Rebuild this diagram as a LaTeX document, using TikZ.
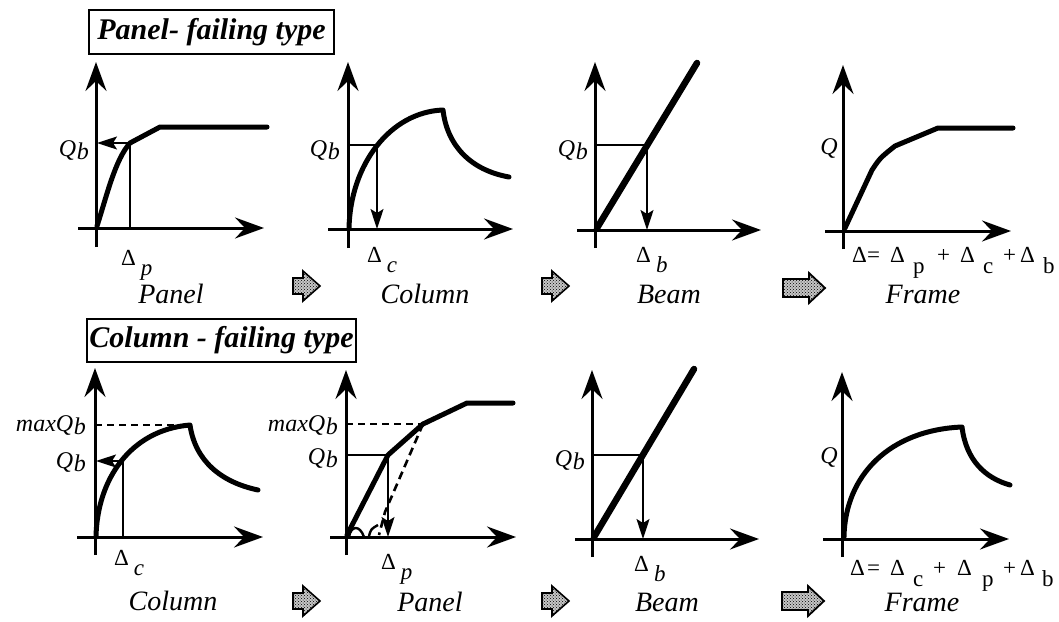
\documentclass[tikz,border=0pt]{standalone}
\usepackage{fontspec}
\setmainfont{Liberation Serif}
\usetikzlibrary{arrows.meta,patterns}
\newcommand\Qlab{\textit{Q}\kern0.5pt\raisebox{-3pt}{\textit{b}}}
\newcommand\dlab[1]{Δ\kern5pt\raisebox{-10pt}{\textit{#1}}}
\newcommand\pc[2]{\makebox[0pt][l]{\hspace*{#1pt}#2}}
\newcommand\pcs[2]{\makebox[0pt][l]{\hspace*{#1pt}\raisebox{-11pt}{#2}}}
\begin{document}
\begin{tikzpicture}[x=1pt,y=-1pt,
  axis/.style={line width=3pt,-{Stealth[length=29pt,width=21pt,inset=10pt]}},
  curve/.style={line width=5pt,line join=round,line cap=round},
  beam/.style={line width=6.5pt,line cap=round},
  thinl/.style={line width=1.5pt},
  ptr/.style={line width=1.5pt,-{Stealth[length=20pt,width=13pt,inset=4pt]}},
  dashl/.style={line width=2pt,dash pattern=on 7pt off 5pt},
  dashd/.style={line width=2.6pt,dash pattern=on 8pt off 5pt},
  lab/.style={font=\fontsize{24}{26}\selectfont\itshape,inner sep=0pt},
  dlabel/.style={font=\fontsize{23}{25}\selectfont,inner sep=0pt,anchor=north west},
  capt/.style={font=\fontsize{28}{30}\selectfont\itshape,inner sep=0pt},
  titlebox/.style={draw,line width=2pt,font=\fontsize{30}{32}\selectfont\bfseries\itshape,inner sep=0pt,anchor=north west},
  bsmall/.pic={\draw[line width=1.6pt,preaction={fill=gray!45},pattern=crosshatch dots,line join=miter] (0,-8) -- (10,-8) -- (10,-15) -- (27,0) -- (10,15) -- (10,8) -- (0,8) -- cycle;},
  bbig/.pic={\draw[line width=1.8pt,preaction={fill=gray!45},pattern=crosshatch dots,line join=miter] (0,-9) -- (26,-9) -- (26,-15) -- (42,0) -- (26,15) -- (26,9) -- (0,9) -- cycle;}
]
\useasboundingbox (0,0) rectangle (1059,621);

% ---------- titles ----------
\node[titlebox,minimum width=245pt,minimum height=44pt] (t1) at (88,9) {Panel- failing type};
\node[titlebox,minimum width=269pt,minimum height=43pt] (t2) at (86,318) {Column - failing type};

% ================= TOP ROW =================
% graph 1: Panel
\draw[axis] (78,228) -- (264,228);
\draw[axis] (96,247) -- (96,62);
\coordinate (a1) at (130,143);
\draw[curve] (97,226) .. controls (107,195) and (115,160) .. (a1) -- (160,127) -- (267,127);
\draw[thinl] (a1) -- (130,228);
\draw[ptr] (a1) -- (97,143);
\node[lab,anchor=east] (qa1) at (89,150) {\Qlab};
\node[dlabel] (da1) at (121,250) {\dlab{p}};
\node[capt] (ca1) at (171,294) {Panel};

% graph 2: Column
\draw[axis] (328,229) -- (513,229);
\draw[axis] (348,248) -- (348,62);
\coordinate (a2) at (377,145);
\draw[curve] (349,229) .. controls (350,165) and (390,112) .. (443,110)
   .. controls (447,145) and (470,170) .. (509,177);
\draw[thinl] (348,145) -- (a2);
\draw[ptr] (a2) -- (377,229);
\node[lab,anchor=east] (qa2) at (340,150) {\Qlab};
\node[dlabel] (da2) at (367,247) {\dlab{c}};
\node[capt] (ca2) at (425,294) {Column};

% graph 3: Beam
\draw[axis] (577,230) -- (761,230);
\draw[axis] (595,248) -- (595,62);
\coordinate (a3) at (647,145);
\draw[beam] (597,228) -- (697,63);
\draw[thinl] (595,145) -- (a3);
\draw[ptr] (a3) -- (647,230);
\node[lab,anchor=east] (qa3) at (588,150) {\Qlab};
\node[dlabel] (da3) at (636,247) {\dlab{b}};
\node[capt] (ca3) at (669,294) {Beam};

% graph 4: Frame
\draw[axis] (825,231) -- (1011,231);
\draw[axis] (843,249) -- (843,65);
\draw[curve] (845,228) -- (872,170) .. controls (880,158) .. (895,146) -- (938,128) -- (1013,128);
\node[lab,anchor=east] (qa4) at (838,148) {Q};
\node[dlabel] (da4) at (852,247) {\pc{0}{Δ}\pc{15}{=}\pc{38}{Δ}\pcs{61}{p}\pc{85}{+}\pc{108}{Δ}\pcs{131}{c}\pc{151}{+}\pc{168}{Δ}\pcs{191}{b}\hspace*{201pt}};
\node[capt] (ca4) at (923,294) {Frame};

% block arrows top
\pic (ba1) at (293,286) {bsmall};
\pic (ba2) at (542,286) {bsmall};
\pic (ba3) at (783,288) {bbig};

% ================= BOTTOM ROW =================
% graph 1: Column
\draw[axis] (77,537) -- (263,537);
\draw[axis] (95,555) -- (95,368);
\coordinate (b1) at (123,461);
\draw[curve] (96,537) .. controls (97,480) and (130,430) .. (190,425)
   .. controls (195,460) and (220,482) .. (258,490);
\draw[dashl] (95,425) -- (190,425);
\draw[thinl] (b1) -- (123,537);
\draw[ptr] (b1) -- (96,461);
\node[lab,anchor=east] (mb1) at (86,425) {max\Qlab};
\node[lab,anchor=east] (qb1) at (86,462) {\Qlab};
\node[dlabel] (db1) at (114,550) {\dlab{c}};
\node[capt] (cb1) at (173,601) {Column};

% graph 2: Panel
\draw[axis] (330,537) -- (516,537);
\draw[axis] (346,555) -- (346,370);
\coordinate (b2) at (388,455);
\coordinate (b2m) at (423,424);
\draw[curve] (347,535) -- (b2) -- (b2m) -- (467,403) -- (513,403);
\draw[thinl] (346,455) -- (b2);
\draw[ptr] (b2) -- (388,537);
\draw[dashl] (346,424) -- (b2m);
\draw[dashd] (b2m) -- (385,512) -- (379,535);
\draw[line width=2.4pt] (349,537) .. controls (351,525) and (360,525) .. (364,537);
\draw[line width=2.4pt] (369,536) .. controls (371,529) .. (378,525);
\node[lab,anchor=east] (mb2) at (338,425) {max\Qlab};
\node[lab,anchor=east] (qb2) at (338,458) {\Qlab};
\node[dlabel] (db2) at (381,554) {\dlab{p}};
\node[capt] (cb2) at (430,602) {Panel};

% graph 3: Beam
\draw[axis] (575,539) -- (759,539);
\draw[axis] (592,557) -- (592,370);
\coordinate (b3) at (643,455);
\draw[beam] (594,537) -- (694,369);
\draw[thinl] (592,455) -- (b3);
\draw[ptr] (b3) -- (643,539);
\node[lab,anchor=east] (qb3) at (585,460) {\Qlab};
\node[dlabel] (db3) at (634,556) {\dlab{b}};
\node[capt] (cb3) at (667,602) {Beam};

% graph 4: Frame
\draw[axis] (823,539) -- (1009,539);
\draw[axis] (842,557) -- (842,372);
\draw[curve] (844,537) .. controls (845,475) and (890,430) .. (962,427)
   .. controls (966,460) and (985,478) .. (1010,485);
\node[lab,anchor=east] (qb4) at (838,457) {Q};
\node[dlabel] (db4) at (850,560) {\pc{0}{Δ}\pc{17}{=}\pc{40}{Δ}\pcs{63}{c}\pc{83}{+}\pc{107}{Δ}\pcs{132}{p}\pc{153}{+}\pc{170}{Δ}\pcs{192}{b}\hspace*{202pt}};
\node[capt] (cb4) at (922,602) {Frame};

% block arrows bottom
\pic (bb1) at (293,601) {bsmall};
\pic (bb2) at (542,601) {bsmall};
\pic (bb3) at (782,601) {bbig};
\end{tikzpicture}
\end{document}
